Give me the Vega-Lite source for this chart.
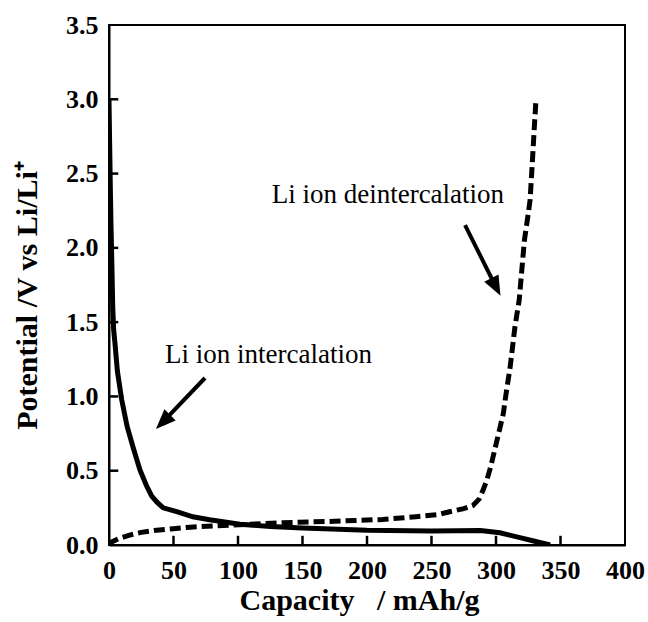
{
  "$schema": "https://vega.github.io/schema/vega-lite/v6.json",
  "width": 516,
  "height": 520,
  "autosize": {"type": "none"},
  "padding": {"left": 109, "top": 25, "right": 23, "bottom": 77},
  "background": "white",
  "config": {
    "view": {"stroke": "black", "strokeWidth": 2},
    "axis": {
      "grid": false,
      "ticks": false,
      "domainColor": "black",
      "domainWidth": 2,
      "labelFont": "Liberation Serif",
      "labelFontWeight": "bold",
      "labelFontSize": 26,
      "labelColor": "black",
      "labelFlush": false,
      "labelOverlap": false,
      "titleFont": "Liberation Serif",
      "titleFontWeight": "bold",
      "titleFontSize": 30,
      "titleColor": "black"
    }
  },
  "datasets": {
    "intercalation": [
      {"cap": 0, "pot": 3.0}, {"cap": 0.5, "pot": 2.7}, {"cap": 1, "pot": 2.42}, {"cap": 1.5, "pot": 2.17},
      {"cap": 2.1, "pot": 1.94}, {"cap": 2.9, "pot": 1.6}, {"cap": 3.6, "pot": 1.45}, {"cap": 4.6, "pot": 1.36},
      {"cap": 6.5, "pot": 1.17}, {"cap": 9.8, "pot": 0.98}, {"cap": 14, "pot": 0.8}, {"cap": 18.6, "pot": 0.66},
      {"cap": 24, "pot": 0.505}, {"cap": 29, "pot": 0.4}, {"cap": 33, "pot": 0.33}, {"cap": 37, "pot": 0.29},
      {"cap": 42, "pot": 0.25}, {"cap": 52.5, "pot": 0.224}, {"cap": 65, "pot": 0.19}, {"cap": 78, "pot": 0.17},
      {"cap": 101.5, "pot": 0.14}, {"cap": 125, "pot": 0.125}, {"cap": 150, "pot": 0.115}, {"cap": 200, "pot": 0.1},
      {"cap": 250, "pot": 0.095}, {"cap": 288, "pot": 0.097}, {"cap": 303, "pot": 0.082}, {"cap": 318.6, "pot": 0.05},
      {"cap": 330, "pot": 0.025}, {"cap": 342, "pot": 0.0}
    ],
    "deintercalation": [
      {"cap": 0, "pot": 0.0}, {"cap": 2, "pot": 0.02}, {"cap": 8, "pot": 0.045}, {"cap": 16, "pot": 0.067},
      {"cap": 25, "pot": 0.085}, {"cap": 37, "pot": 0.1}, {"cap": 50, "pot": 0.11}, {"cap": 63, "pot": 0.12},
      {"cap": 96, "pot": 0.135}, {"cap": 135, "pot": 0.15}, {"cap": 175, "pot": 0.16}, {"cap": 212, "pot": 0.172},
      {"cap": 238, "pot": 0.19}, {"cap": 255, "pot": 0.205}, {"cap": 264, "pot": 0.224}, {"cap": 275, "pot": 0.245},
      {"cap": 282, "pot": 0.265}, {"cap": 287, "pot": 0.31}, {"cap": 290, "pot": 0.37}, {"cap": 293, "pot": 0.44},
      {"cap": 296, "pot": 0.53}, {"cap": 299, "pot": 0.64}, {"cap": 302, "pot": 0.75}, {"cap": 305.7, "pot": 0.886},
      {"cap": 308, "pot": 1.03}, {"cap": 311, "pot": 1.2}, {"cap": 314.7, "pot": 1.47}, {"cap": 318, "pot": 1.65},
      {"cap": 320, "pot": 1.85}, {"cap": 322, "pot": 2.05}, {"cap": 324.5, "pot": 2.2}, {"cap": 326.4, "pot": 2.32},
      {"cap": 328, "pot": 2.55}, {"cap": 329.5, "pot": 2.78}, {"cap": 331, "pot": 3.0}
    ],
    "xticks": [{"cap": 50}, {"cap": 100}, {"cap": 150}, {"cap": 200}, {"cap": 250}, {"cap": 300}, {"cap": 350}],
    "yticks": [{"pot": 0.5}, {"pot": 1.0}, {"pot": 1.5}, {"pot": 2.0}, {"pot": 2.5}, {"pot": 3.0}],
    "arrows": [
      {"name": "intercalation", "x1": 74.4, "y1": 1.124, "x2": 42.4, "y2": 0.833},
      {"name": "deintercalation", "x1": 276, "y1": 2.153, "x2": 299.6, "y2": 1.743}
    ],
    "labels": [
      {"label": "Li ion intercalation", "x": 43.4, "y": 1.225},
      {"label": "Li ion deintercalation", "x": 126.1, "y": 2.3}
    ]
  },
  "layer": [
    {
      "data": {"name": "xticks"},
      "mark": {"type": "rule", "color": "black", "strokeWidth": 2.5},
      "encoding": {
        "x": {"field": "cap", "type": "quantitative", "scale": {"domain": [0, 400], "nice": false},
          "axis": {"values": [0, 50, 100, 150, 200, 250, 300, 350, 400], "labelPadding": 12, "title": "Capacity\u00a0\u00a0\u00a0/ mAh/g", "titleX": 250, "titleY": 64, "titleAlign": "center", "titleBaseline": "alphabetic"}},
        "y": {"datum": 0, "type": "quantitative", "scale": {"domain": [0, 3.5], "nice": false},
          "axis": {"values": [0, 0.5, 1, 1.5, 2, 2.5, 3, 3.5], "format": ".1f", "labelPadding": 11, "title": "Potential /V vs Li/Li⁺", "titleX": -73, "titleY": 270, "titleAngle": -90, "titleAlign": "center", "titleBaseline": "alphabetic"}},
        "y2": {"datum": 0.062}
      }
    },
    {
      "data": {"name": "yticks"},
      "mark": {"type": "rule", "color": "black", "strokeWidth": 2.5},
      "encoding": {
        "y": {"field": "pot", "type": "quantitative"},
        "x": {"datum": 0, "type": "quantitative"},
        "x2": {"datum": 7.2}
      }
    },
    {
      "data": {"name": "intercalation"},
      "mark": {"type": "line", "color": "black", "strokeWidth": 5, "clip": true},
      "encoding": {
        "x": {"field": "cap", "type": "quantitative"},
        "y": {"field": "pot", "type": "quantitative"}
      }
    },
    {
      "data": {"name": "deintercalation"},
      "mark": {"type": "line", "color": "black", "strokeWidth": 5, "strokeDash": [11, 5], "clip": true},
      "encoding": {
        "x": {"field": "cap", "type": "quantitative"},
        "y": {"field": "pot", "type": "quantitative"}
      }
    },
    {
      "data": {"name": "arrows"},
      "mark": {"type": "rule", "color": "black", "strokeWidth": 4},
      "encoding": {
        "x": {"field": "x1", "type": "quantitative"},
        "y": {"field": "y1", "type": "quantitative"},
        "x2": {"field": "x2"},
        "y2": {"field": "y2"}
      }
    },
    {
      "data": {"name": "arrows"},
      "transform": [{"filter": "datum.name == 'intercalation'"}],
      "mark": {"type": "point", "shape": "M0,-1.1L0.8,0.9L-0.8,0.9Z", "filled": true, "color": "black", "opacity": 1, "size": 400, "angle": 225},
      "encoding": {
        "x": {"field": "x2", "type": "quantitative"},
        "y": {"field": "y2", "type": "quantitative"}
      }
    },
    {
      "data": {"name": "arrows"},
      "transform": [{"filter": "datum.name == 'deintercalation'"}],
      "mark": {"type": "point", "shape": "M0,-1.1L0.8,0.9L-0.8,0.9Z", "filled": true, "color": "black", "opacity": 1, "size": 400, "angle": 153},
      "encoding": {
        "x": {"field": "x2", "type": "quantitative"},
        "y": {"field": "y2", "type": "quantitative"}
      }
    },
    {
      "data": {"name": "labels"},
      "mark": {"type": "text", "font": "Liberation Serif", "fontSize": 27, "align": "left", "baseline": "alphabetic", "color": "black"},
      "encoding": {
        "x": {"field": "x", "type": "quantitative"},
        "y": {"field": "y", "type": "quantitative"},
        "text": {"field": "label"}
      }
    }
  ]
}
